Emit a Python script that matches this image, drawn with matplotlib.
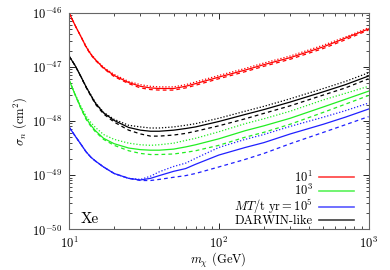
import numpy as np
import matplotlib
matplotlib.use('Agg')
import matplotlib.pyplot as plt

plt.rcParams['font.family'] = ['cmr10', 'DejaVu Serif']
plt.rcParams['mathtext.fontset'] = 'cm'
plt.rcParams['axes.formatter.use_mathtext'] = True
plt.rcParams['font.size'] = 9

# dark matter mass (GeV)
mass = [10, 11, 12, 13, 14, 15, 17, 20, 25, 30, 35, 40, 50, 60, 70, 100, 150, 200, 300, 500, 700, 1000]

# log10 of sigma_n, solid curves
red_solid = [-46.00, -46.24, -46.44, -46.63, -46.77, -46.87, -47.02, -47.16, -47.29, -47.36, -47.39,
             -47.40, -47.40, -47.36, -47.31, -47.19, -47.06, -46.96, -46.83, -46.63, -46.47, -46.30]
green_solid = [-47.24, -47.52, -47.76, -47.95, -48.08, -48.18, -48.32, -48.42, -48.50, -48.53, -48.54,
               -48.54, -48.52, -48.48, -48.44, -48.33, -48.18, -48.09, -47.95, -47.74, -47.60, -47.45]
blue_solid = [-48.11, -48.28, -48.43, -48.57, -48.67, -48.74, -48.85, -48.97, -49.06, -49.09, -49.06,
              -49.01, -48.93, -48.88, -48.80, -48.63, -48.49, -48.40, -48.24, -48.06, -47.93, -47.78]
black_solid = [-46.80, -46.98, -47.18, -47.37, -47.53, -47.67, -47.85, -47.99, -48.12, -48.17, -48.19,
               -48.19, -48.17, -48.14, -48.11, -48.01, -47.88, -47.79, -47.65, -47.46, -47.33, -47.17]

# dotted / dashed curves (log10 sigma_n)
red_dot = [-46.00, -46.24, -46.44, -46.62, -46.76, -46.86, -47.01, -47.14, -47.27, -47.33, -47.36,
           -47.37, -47.37, -47.33, -47.28, -47.16, -47.03, -46.93, -46.80, -46.60, -46.45, -46.28]
red_dash = [-46.00, -46.24, -46.44, -46.64, -46.78, -46.88, -47.03, -47.18, -47.31, -47.39, -47.42,
            -47.43, -47.43, -47.39, -47.34, -47.22, -47.09, -46.99, -46.86, -46.66, -46.50, -46.32]
green_dot = [-47.24, -47.51, -47.73, -47.91, -48.03, -48.12, -48.25, -48.34, -48.41, -48.44, -48.45,
             -48.44, -48.41, -48.36, -48.32, -48.20, -48.05, -47.96, -47.82, -47.61, -47.49, -47.36]
green_dash = [-47.24, -47.52, -47.77, -47.97, -48.10, -48.20, -48.34, -48.45, -48.55, -48.60, -48.62,
              -48.62, -48.61, -48.58, -48.55, -48.45, -48.30, -48.21, -48.06, -47.84, -47.69, -47.53]
blue_dot = [-48.11, -48.28, -48.43, -48.57, -48.67, -48.74, -48.85, -48.97, -49.06, -49.08, -49.02,
            -48.94, -48.84, -48.78, -48.69, -48.49, -48.34, -48.25, -48.10, -47.93, -47.81, -47.67]
blue_dash = [-48.11, -48.28, -48.43, -48.57, -48.67, -48.74, -48.85, -48.97, -49.06, -49.10, -49.10,
             -49.08, -49.04, -49.01, -48.97, -48.85, -48.71, -48.60, -48.42, -48.21, -48.07, -47.92]
black_dot = [-46.80, -46.98, -47.18, -47.37, -47.52, -47.66, -47.84, -47.97, -48.08, -48.11, -48.13,
             -48.13, -48.11, -48.08, -48.05, -47.95, -47.82, -47.73, -47.59, -47.40, -47.27, -47.11]
black_dash = [-46.80, -46.98, -47.18, -47.38, -47.54, -47.69, -47.87, -48.02, -48.17, -48.24, -48.28,
              -48.28, -48.26, -48.23, -48.19, -48.09, -47.96, -47.86, -47.72, -47.52, -47.39, -47.22]

labels = ['$10^1$', '$10^3$', '$MT/\\mathrm{t\\ yr} = 10^5$', 'DARWIN-like']
colors = ['#ff0000', '#22ee22', '#2020ff', '#000000']

fig = plt.figure(figsize=(3.9, 2.7), dpi=100)
ax = fig.add_axes([0.177, 0.151, 0.768, 0.802])

m = np.array(mass)
curves = [(red_solid, red_dot, red_dash), (green_solid, green_dot, green_dash),
          (blue_solid, blue_dot, blue_dash), (black_solid, black_dot, black_dash)]
for (s, d, da), c, lab in zip(curves, colors, labels):
    ax.plot(m, 10**np.array(s), color=c, lw=0.9, label=lab)
    ax.plot(m, 10**np.array(d), color=c, lw=0.9, ls=(0, (1, 1.5)))
    ax.plot(m, 10**np.array(da), color=c, lw=0.9, ls=(0, (3, 2.5)))

ax.set_xscale('log')
ax.set_yscale('log')
ax.set_xlim(10, 1000)
ax.set_ylim(1e-50, 1e-46)
ax.set_yticks([1e-50, 1e-49, 1e-48, 1e-47, 1e-46])
ax.tick_params(which='both', direction='in', top=True, right=True, pad=5)
ax.tick_params(which='major', length=4, width=0.6)
ax.tick_params(which='minor', length=2, width=0.5)
for sp in ax.spines.values():
    sp.set_color('#666666')
    sp.set_linewidth(0.8)

ax.set_xlabel('$m_\\chi$ (GeV)', labelpad=0)
ax.set_ylabel('$\\sigma_n$ (cm$^2$)', labelpad=2)
ax.text(0.04, 0.03, 'Xe', transform=ax.transAxes, fontsize=11)

leg = ax.legend(loc='lower right', bbox_to_anchor=(0.955, 0.005), frameon=False,
                markerfirst=False, handlelength=2.8, labelspacing=-0.1, borderaxespad=0,
                borderpad=0.1, handletextpad=0.5)
for t in leg.get_texts():
    t.set_ha('right')
leg._legend_box.align = 'right'
for h in leg.get_lines():
    h.set_linewidth(1.2)
    h.set_alpha(0.75)

fig.savefig('out.png', dpi=100)
